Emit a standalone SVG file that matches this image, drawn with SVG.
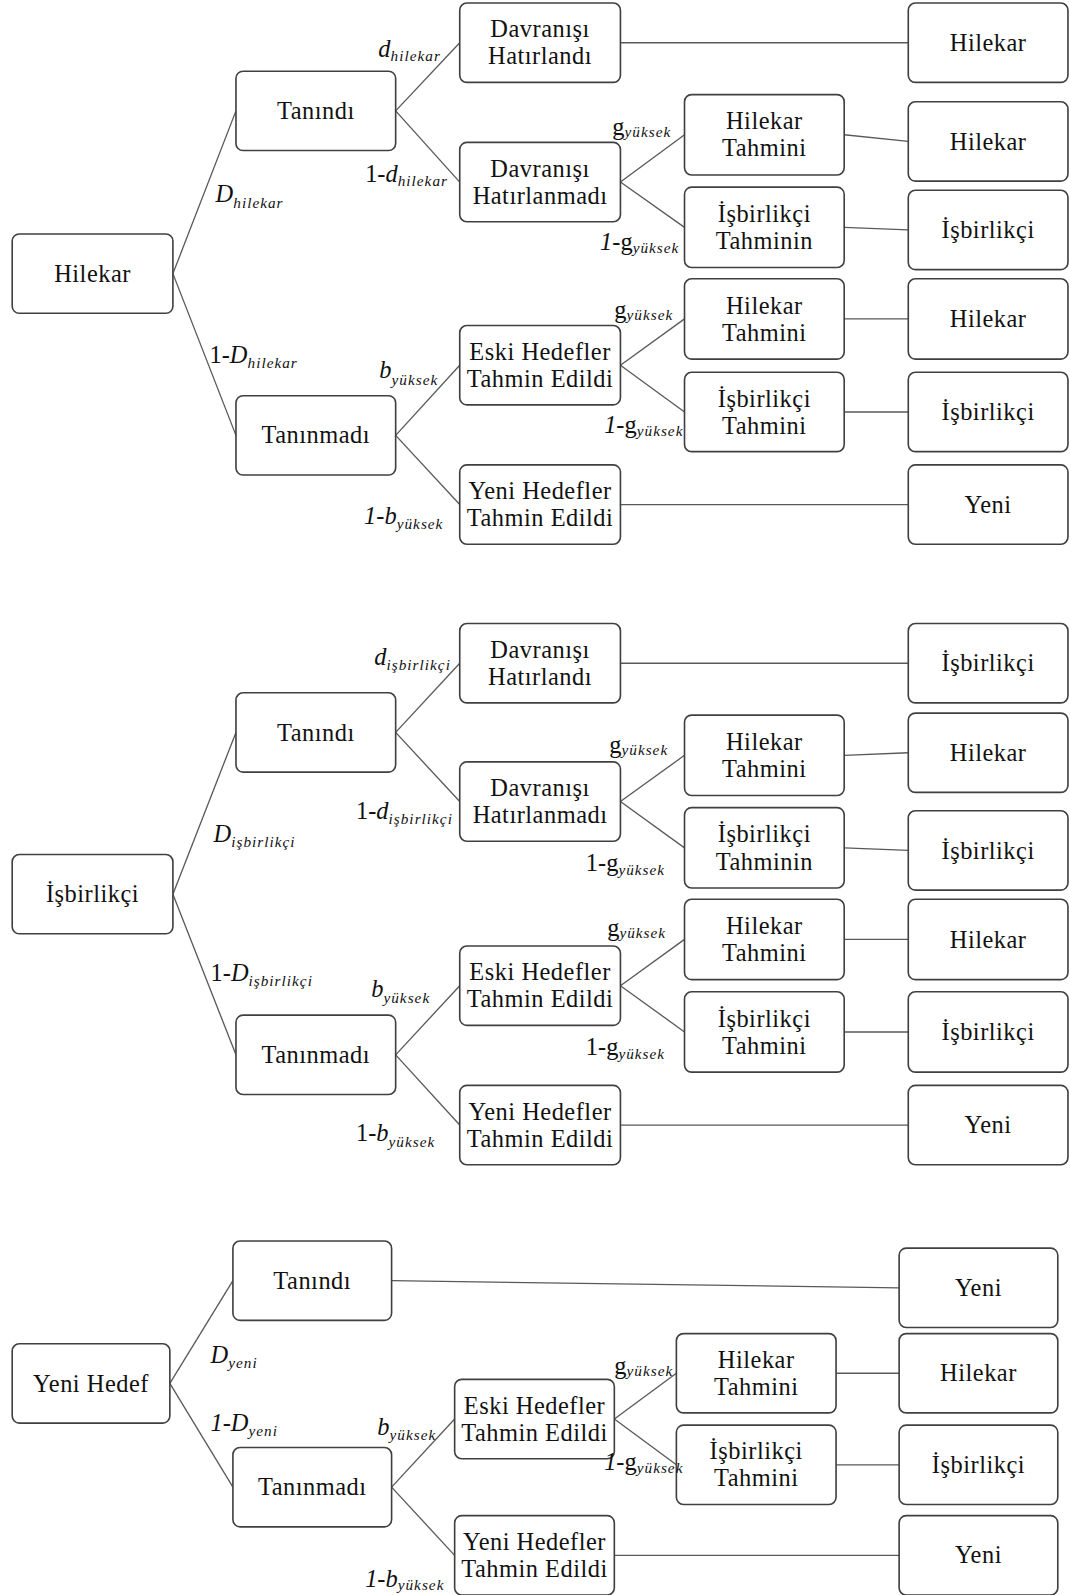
<svg xmlns="http://www.w3.org/2000/svg" width="1070" height="1595" viewBox="0 0 1070 1595">
<style>
.b{fill:#fff;stroke:#404040;stroke-width:1.6}
.t{font-family:"Liberation Serif","Times New Roman",serif;font-size:24px;letter-spacing:0.5px;fill:#111;text-anchor:middle}
.c line{stroke:#595959;stroke-width:1.3}
.l{font-family:"Liberation Serif","Times New Roman",serif;font-size:24px;fill:#111}
.i{font-style:italic}
.s{font-style:italic;font-size:15px;letter-spacing:1px}
</style>
<rect width="1070" height="1595" fill="#fff"/>
<g transform="scale(1.01711,1.01722)">
<g class="c" id="connectors">
<line x1="170" y1="269" x2="232" y2="109"/><line x1="170" y1="269" x2="232" y2="428"/>
<line x1="389" y1="109" x2="452" y2="42"/><line x1="389" y1="109" x2="452" y2="179"/>
<line x1="389" y1="428" x2="452" y2="359"/><line x1="389" y1="428" x2="452" y2="496"/>
<line x1="610" y1="42" x2="893" y2="42"/>
<line x1="610" y1="179" x2="673" y2="132.5"/><line x1="610" y1="179" x2="673" y2="223.5"/>
<line x1="610" y1="359" x2="673" y2="313.5"/><line x1="610" y1="359" x2="673" y2="405"/>
<line x1="610" y1="496" x2="893" y2="496"/>
<line x1="830" y1="132.5" x2="893" y2="139"/><line x1="830" y1="223.5" x2="893" y2="226"/>
<line x1="830" y1="313.5" x2="893" y2="313.5"/><line x1="830" y1="405" x2="893" y2="405"/>

<line x1="170" y1="879" x2="232" y2="720"/><line x1="170" y1="879" x2="232" y2="1037"/>
<line x1="389" y1="720" x2="452" y2="652"/><line x1="389" y1="720" x2="452" y2="788"/>
<line x1="389" y1="1037" x2="452" y2="969"/><line x1="389" y1="1037" x2="452" y2="1106"/>
<line x1="610" y1="652" x2="893" y2="652"/>
<line x1="610" y1="788" x2="673" y2="742.5"/><line x1="610" y1="788" x2="673" y2="833.5"/>
<line x1="610" y1="969" x2="673" y2="923.5"/><line x1="610" y1="969" x2="673" y2="1014.5"/>
<line x1="610" y1="1106" x2="893" y2="1106"/>
<line x1="830" y1="742.5" x2="893" y2="740"/><line x1="830" y1="833.5" x2="893" y2="836"/>
<line x1="830" y1="923.5" x2="893" y2="923.5"/><line x1="830" y1="1014.5" x2="893" y2="1014.5"/>

<line x1="167" y1="1360" x2="229" y2="1259"/><line x1="167" y1="1360" x2="229" y2="1462"/>
<line x1="385" y1="1259" x2="884" y2="1266"/>
<line x1="385" y1="1462" x2="447" y2="1395"/><line x1="385" y1="1462" x2="447" y2="1529"/>
<line x1="604" y1="1395" x2="665" y2="1350"/><line x1="604" y1="1395" x2="665" y2="1440"/>
<line x1="822" y1="1350" x2="884" y2="1350"/><line x1="822" y1="1440" x2="884" y2="1440"/>
<line x1="604" y1="1529" x2="884" y2="1529"/>
</g>

<!-- Section 1 -->
<g id="s1-root"><rect class="b" x="12" y="230" width="158" height="78" rx="7"/><text class="t" x="91" y="277">Hilekar</text></g>
<g id="s1-tanindi"><rect class="b" x="232" y="70" width="157" height="78" rx="7"/><text class="t" x="310.5" y="117">Tanındı</text></g>
<g id="s1-taninmadi"><rect class="b" x="232" y="389" width="157" height="78" rx="7"/><text class="t" x="310.5" y="436">Tanınmadı</text></g>
<g id="s1-dh"><rect class="b" x="452" y="3" width="158" height="78" rx="7"/><text class="t" x="531" y="36.7">Davranışı<tspan x="531" dy="26.6">Hatırlandı</tspan></text></g>
<g id="s1-dhm"><rect class="b" x="452" y="140" width="158" height="78" rx="7"/><text class="t" x="531" y="173.7">Davranışı<tspan x="531" dy="26.6">Hatırlanmadı</tspan></text></g>
<g id="s1-eski"><rect class="b" x="452" y="320" width="158" height="78" rx="7"/><text class="t" x="531" y="353.7">Eski Hedefler<tspan x="531" dy="26.6">Tahmin Edildi</tspan></text></g>
<g id="s1-yeni"><rect class="b" x="452" y="457" width="158" height="78" rx="7"/><text class="t" x="531" y="490.7">Yeni Hedefler<tspan x="531" dy="26.6">Tahmin Edildi</tspan></text></g>
<g id="s1-ht1"><rect class="b" x="673" y="93" width="157" height="79" rx="7"/><text class="t" x="751.5" y="127.2">Hilekar<tspan x="751.5" dy="26.6">Tahmini</tspan></text></g>
<g id="s1-it1"><rect class="b" x="673" y="184" width="157" height="79" rx="7"/><text class="t" x="751.5" y="218.2">İşbirlikçi<tspan x="751.5" dy="26.6">Tahminin</tspan></text></g>
<g id="s1-ht2"><rect class="b" x="673" y="274" width="157" height="79" rx="7"/><text class="t" x="751.5" y="308.2">Hilekar<tspan x="751.5" dy="26.6">Tahmini</tspan></text></g>
<g id="s1-it2"><rect class="b" x="673" y="366" width="157" height="78" rx="7"/><text class="t" x="751.5" y="399.7">İşbirlikçi<tspan x="751.5" dy="26.6">Tahmini</tspan></text></g>
<g id="s1-r1"><rect class="b" x="893" y="3" width="157" height="78" rx="7"/><text class="t" x="971.5" y="50">Hilekar</text></g>
<g id="s1-r2"><rect class="b" x="893" y="100" width="157" height="78" rx="7"/><text class="t" x="971.5" y="147">Hilekar</text></g>
<g id="s1-r3"><rect class="b" x="893" y="187" width="157" height="78" rx="7"/><text class="t" x="971.5" y="234">İşbirlikçi</text></g>
<g id="s1-r4"><rect class="b" x="893" y="274" width="157" height="79" rx="7"/><text class="t" x="971.5" y="321.5">Hilekar</text></g>
<g id="s1-r5"><rect class="b" x="893" y="366" width="157" height="78" rx="7"/><text class="t" x="971.5" y="413">İşbirlikçi</text></g>
<g id="s1-r6"><rect class="b" x="893" y="457" width="157" height="78" rx="7"/><text class="t" x="971.5" y="504">Yeni</text></g>

<!-- Section 2 -->
<g id="s2-root"><rect class="b" x="12" y="840" width="158" height="78" rx="7"/><text class="t" x="91" y="887">İşbirlikçi</text></g>
<g id="s2-tanindi"><rect class="b" x="232" y="681" width="157" height="78" rx="7"/><text class="t" x="310.5" y="728">Tanındı</text></g>
<g id="s2-taninmadi"><rect class="b" x="232" y="998" width="157" height="78" rx="7"/><text class="t" x="310.5" y="1045">Tanınmadı</text></g>
<g id="s2-dh"><rect class="b" x="452" y="613" width="158" height="78" rx="7"/><text class="t" x="531" y="646.7">Davranışı<tspan x="531" dy="26.6">Hatırlandı</tspan></text></g>
<g id="s2-dhm"><rect class="b" x="452" y="749" width="158" height="78" rx="7"/><text class="t" x="531" y="782.7">Davranışı<tspan x="531" dy="26.6">Hatırlanmadı</tspan></text></g>
<g id="s2-eski"><rect class="b" x="452" y="930" width="158" height="78" rx="7"/><text class="t" x="531" y="963.7">Eski Hedefler<tspan x="531" dy="26.6">Tahmin Edildi</tspan></text></g>
<g id="s2-yeni"><rect class="b" x="452" y="1067" width="158" height="78" rx="7"/><text class="t" x="531" y="1100.7">Yeni Hedefler<tspan x="531" dy="26.6">Tahmin Edildi</tspan></text></g>
<g id="s2-ht1"><rect class="b" x="673" y="703" width="157" height="79" rx="7"/><text class="t" x="751.5" y="737.2">Hilekar<tspan x="751.5" dy="26.6">Tahmini</tspan></text></g>
<g id="s2-it1"><rect class="b" x="673" y="794" width="157" height="79" rx="7"/><text class="t" x="751.5" y="828.2">İşbirlikçi<tspan x="751.5" dy="26.6">Tahminin</tspan></text></g>
<g id="s2-ht2"><rect class="b" x="673" y="884" width="157" height="79" rx="7"/><text class="t" x="751.5" y="918.2">Hilekar<tspan x="751.5" dy="26.6">Tahmini</tspan></text></g>
<g id="s2-it2"><rect class="b" x="673" y="975" width="157" height="79" rx="7"/><text class="t" x="751.5" y="1009.2">İşbirlikçi<tspan x="751.5" dy="26.6">Tahmini</tspan></text></g>
<g id="s2-r1"><rect class="b" x="893" y="613" width="157" height="78" rx="7"/><text class="t" x="971.5" y="660">İşbirlikçi</text></g>
<g id="s2-r2"><rect class="b" x="893" y="701" width="157" height="78" rx="7"/><text class="t" x="971.5" y="748">Hilekar</text></g>
<g id="s2-r3"><rect class="b" x="893" y="797" width="157" height="78" rx="7"/><text class="t" x="971.5" y="844">İşbirlikçi</text></g>
<g id="s2-r4"><rect class="b" x="893" y="884" width="157" height="79" rx="7"/><text class="t" x="971.5" y="931.5">Hilekar</text></g>
<g id="s2-r5"><rect class="b" x="893" y="975" width="157" height="79" rx="7"/><text class="t" x="971.5" y="1022.5">İşbirlikçi</text></g>
<g id="s2-r6"><rect class="b" x="893" y="1067" width="157" height="78" rx="7"/><text class="t" x="971.5" y="1114">Yeni</text></g>

<!-- Section 3 -->
<g id="s3-root"><rect class="b" x="12" y="1321" width="155" height="78" rx="7"/><text class="t" x="89.5" y="1368">Yeni Hedef</text></g>
<g id="s3-tanindi"><rect class="b" x="229" y="1220" width="156" height="78" rx="7"/><text class="t" x="307" y="1267">Tanındı</text></g>
<g id="s3-taninmadi"><rect class="b" x="229" y="1423" width="156" height="78" rx="7"/><text class="t" x="307" y="1470">Tanınmadı</text></g>
<g id="s3-eski"><rect class="b" x="447" y="1356" width="157" height="78" rx="7"/><text class="t" x="525.5" y="1389.7">Eski Hedefler<tspan x="525.5" dy="26.6">Tahmin Edildi</tspan></text></g>
<g id="s3-yeni"><rect class="b" x="447" y="1490" width="157" height="78" rx="7"/><text class="t" x="525.5" y="1523.7">Yeni Hedefler<tspan x="525.5" dy="26.6">Tahmin Edildi</tspan></text></g>
<g id="s3-ht"><rect class="b" x="665" y="1311" width="157" height="78" rx="7"/><text class="t" x="743.5" y="1344.7">Hilekar<tspan x="743.5" dy="26.6">Tahmini</tspan></text></g>
<g id="s3-it"><rect class="b" x="665" y="1401" width="157" height="78" rx="7"/><text class="t" x="743.5" y="1434.7">İşbirlikçi<tspan x="743.5" dy="26.6">Tahmini</tspan></text></g>
<g id="s3-r1"><rect class="b" x="884" y="1227" width="156" height="78" rx="7"/><text class="t" x="962" y="1274">Yeni</text></g>
<g id="s3-r2"><rect class="b" x="884" y="1311" width="156" height="78" rx="7"/><text class="t" x="962" y="1358">Hilekar</text></g>
<g id="s3-r3"><rect class="b" x="884" y="1401" width="156" height="78" rx="7"/><text class="t" x="962" y="1448">İşbirlikçi</text></g>
<g id="s3-r4"><rect class="b" x="884" y="1490" width="156" height="78" rx="7"/><text class="t" x="962" y="1537">Yeni</text></g>

<!-- Labels -->
<g id="labels">
<text class="l" x="372" y="56"><tspan class="i">d</tspan><tspan class="s" dy="4">hilekar</tspan></text>
<text class="l" x="359" y="179">1-<tspan class="i">d</tspan><tspan class="s" dy="4">hilekar</tspan></text>
<text class="l" x="212" y="199"><tspan class="i">D</tspan><tspan class="s" dy="5">hilekar</tspan></text>
<text class="l" x="206" y="357">1-<tspan class="i">D</tspan><tspan class="s" dy="5">hilekar</tspan></text>
<text class="l" x="373" y="372"><tspan class="i">b</tspan><tspan class="s" dy="6">yüksek</tspan></text>
<text class="l i" x="358" y="515">1-b<tspan class="s" dy="5">yüksek</tspan></text>
<text class="l" x="602" y="133">g<tspan class="s" dy="2">yüksek</tspan></text>
<text class="l" x="590" y="246"><tspan class="i">1</tspan>-g<tspan class="s" dy="3">yüksek</tspan></text>
<text class="l" x="604" y="313">g<tspan class="s" dy="2">yüksek</tspan></text>
<text class="l" x="594" y="426"><tspan class="i">1</tspan>-g<tspan class="s" dy="3">yüksek</tspan></text>

<text class="l" x="368" y="654"><tspan class="i">d</tspan><tspan class="s" dy="5">işbirlikçi</tspan></text>
<text class="l" x="350" y="805">1-<tspan class="i">d</tspan><tspan class="s" dy="5">işbirlikçi</tspan></text>
<text class="l" x="210" y="828"><tspan class="i">D</tspan><tspan class="s" dy="5">işbirlikçi</tspan></text>
<text class="l" x="207" y="964">1-<tspan class="i">D</tspan><tspan class="s" dy="5">işbirlikçi</tspan></text>
<text class="l" x="365" y="980"><tspan class="i">b</tspan><tspan class="s" dy="6">yüksek</tspan></text>
<text class="l" x="350" y="1122">1-<tspan class="i">b</tspan><tspan class="s" dy="6">yüksek</tspan></text>
<text class="l" x="599" y="740">g<tspan class="s" dy="2">yüksek</tspan></text>
<text class="l" x="576" y="856">1-g<tspan class="s" dy="4">yüksek</tspan></text>
<text class="l" x="597" y="920">g<tspan class="s" dy="2">yüksek</tspan></text>
<text class="l" x="576" y="1037">1-g<tspan class="s" dy="4">yüksek</tspan></text>

<text class="l" x="207" y="1340"><tspan class="i">D</tspan><tspan class="s" dy="5">yeni</tspan></text>
<text class="l i" x="207" y="1407">1-D<tspan class="s" dy="5">yeni</tspan></text>
<text class="l" x="371" y="1411"><tspan class="i">b</tspan><tspan class="s" dy="5">yüksek</tspan></text>
<text class="l i" x="359" y="1560">1-b<tspan class="s" dy="3">yüksek</tspan></text>
<text class="l" x="604" y="1351">g<tspan class="s" dy="2">yüksek</tspan></text>
<text class="l" x="594" y="1445"><tspan class="i">1</tspan>-g<tspan class="s" dy="3">yüksek</tspan></text>
</g>
</g>
</svg>
